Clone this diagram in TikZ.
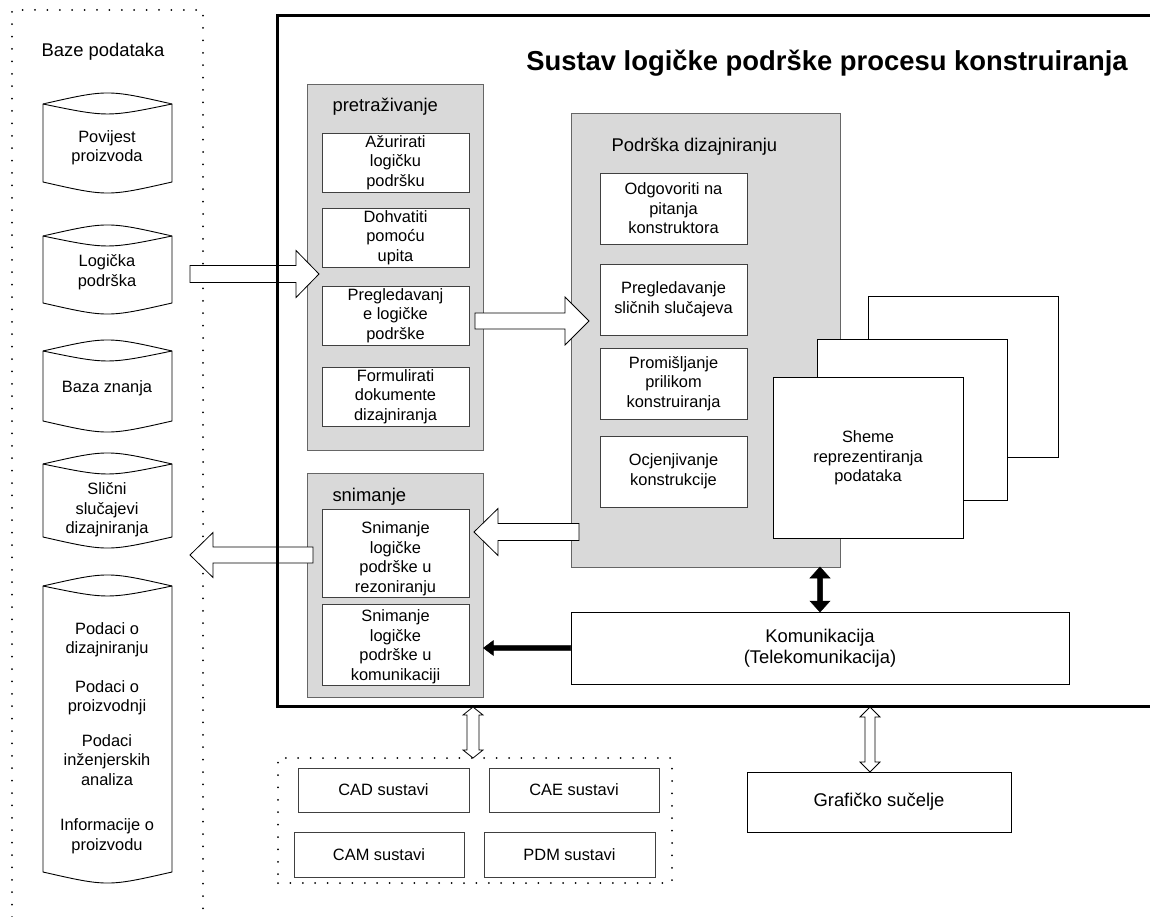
\documentclass[tikz,border=0pt]{standalone}
\usepackage{fontspec}
\setmainfont{Liberation Sans}
\usetikzlibrary{calc}
\newcommand\fsA{\fontsize{16.4}{19.5}\selectfont}
\newcommand\fsB{\fontsize{18.4}{21}\selectfont}
\newcommand\fsT{\fontsize{27.4}{31}\selectfont\bfseries}
% box from corners: style, name, x1, y1, x2, y2, text
\newcommand\bx[7]{\node[#1, minimum width={#5-#3}, minimum height={#6-#4}] (#2) at ({(#3+#5)/2},{(#4+#6)/2}) {#7};}
% cylinder: x1, x2, top, bottom
\newcommand\cyl[4]{%
  \draw[cylst] (#1,#3+11) .. controls ({(#1+#2)/2},#3-3.7) .. (#2,#3+11) -- (#2,#4-11) .. controls ({(#1+#2)/2},#4+3.7) .. (#1,#4-11) -- cycle;
  \draw[cylst] (#1,#3+11) .. controls ({(#1+#2)/2},#3+24.3) .. (#2,#3+11);}
\tikzset{
  cylst/.style={draw=black, fill=white, line width=0.9pt},
  grp/.style={draw=black!60, fill=black!15, line width=0.9pt, inner sep=0pt},
  ibox/.style={draw=black!75, fill=white, line width=0.8pt, align=center, inner sep=0pt, font=\fsA},
  wbox/.style={draw=black, fill=white, line width=0.8pt, align=center, inner sep=0pt},
  dotline/.style={draw=black, dash pattern=on 0pt off 12.4pt, line cap=round, line width=2pt},
  hollow/.style={draw=black, fill=white, line width=0.8pt, line join=miter},
  solid arrow/.style={draw=black, fill=black, line width=0.5pt, line join=miter},
  blk/.style n args={3}{to path={let \p1=(\tikztostart), \p2=(\tikztotarget),
      \n1={atan2(\y2-\y1,\x2-\x1)}, \n2={veclen(\x2-\x1,\y2-\y1)} in
      [shift={(\p1)}, rotate=\n1] (0,#1) -- ({\n2-#3},#1) -- ({\n2-#3},#2) -- (\n2,0)
      -- ({\n2-#3},-#2) -- ({\n2-#3},-#1) -- (0,-#1) -- cycle}},
  blkd/.style n args={3}{to path={let \p1=(\tikztostart), \p2=(\tikztotarget),
      \n1={atan2(\y2-\y1,\x2-\x1)}, \n2={veclen(\x2-\x1,\y2-\y1)} in
      [shift={(\p1)}, rotate=\n1] (0,0) -- (#3,#2) -- (#3,#1) -- ({\n2-#3},#1) -- ({\n2-#3},#2)
      -- (\n2,0) -- ({\n2-#3},-#2) -- ({\n2-#3},-#1) -- (#3,-#1) -- (#3,-#2) -- cycle}},
}
\begin{document}
\begin{tikzpicture}[x=1pt, y=-1pt]
\useasboundingbox (0,0) rectangle (1150,917);

% ---------- databases ----------
\draw[dotline] (12,917) -- (12,10) -- (203,10) -- (203,917);
\node[font=\fsB] (baze) at (103,52) {Baze podataka};
\cyl{43}{172}{93}{193}
\cyl{43}{172}{225}{314}
\cyl{43}{172}{340}{432}
\cyl{43}{172}{453}{548}
\cyl{43}{172}{575}{883}
\node[font=\fsA, align=center] (povijest) at (107,148) {Povijest\\proizvoda};
\node[font=\fsA, align=center] (logicka) at (107,272) {Logička\\podrška};
\node[font=\fsA, align=center] (baza) at (107,388) {Baza znanja};
\node[font=\fsA, align=center] (slicni) at (107,510) {Slični\\slučajevi\\dizajniranja};
\node[font=\fsA, align=center] (podaci) at (107,738) {Podaci o\\dizajniranju\\[19pt]Podaci o\\proizvodnji\\[15pt]Podaci\\inženjerskih\\analiza\\[26pt]Informacije o\\proizvodu};

% ---------- pretrazivanje ----------
\bx{grp}{pretraz}{307}{84}{483}{450}{}
\node[font=\fsB, anchor=west] (pretrazl) at (329,107) {pretraživanje};
\bx{ibox}{azur}{322}{133}{469}{192}{Ažurirati\\logičku\\podršku}
\bx{ibox}{dohv}{322}{208}{469}{267}{Dohvatiti\\pomoću\\upita}
\bx{ibox}{pregl}{322}{286}{469}{345}{Pregledavanj\\e logičke\\podrške}
\bx{ibox}{form}{322}{367}{469}{426}{Formulirati\\dokumente\\dizajniranja}

% ---------- snimanje ----------
\bx{grp}{snim}{307}{473}{483}{697}{}
\node[font=\fsB, anchor=west] (sniml) at (329,497) {snimanje};
\bx{ibox}{snrez}{322}{509}{469}{597}{}
\node[font=\fsA, align=center] (snrezl) at (395.5,559) {Snimanje\\logičke\\podrške u\\rezoniranju};
\bx{ibox}{snkom}{322}{604}{469}{685}{}
\node[font=\fsA, align=center] (snkoml) at (395.5,647) {Snimanje\\logičke\\podrške u\\komunikaciji};

% ---------- podrska dizajniranju ----------
\bx{grp}{podrska}{571}{113}{840}{567}{}
\node[font=\fsB, anchor=west] (podrskal) at (608,147) {Podrška dizajniranju};
\bx{ibox}{odg}{600}{173}{747}{244}{Odgovoriti na\\pitanja\\konstruktora}
\bx{ibox}{pregsl}{600}{264}{747}{335}{Pregledavanje\\sličnih slučajeva}
\bx{ibox}{prom}{600}{348}{747}{419}{Promišljanje\\prilikom\\konstruiranja}
\bx{ibox}{ocj}{600}{436}{747}{507}{Ocjenjivanje\\konstrukcije}

% ---------- sheme ----------
\bx{wbox}{sh3}{868}{296}{1058}{457}{}
\bx{wbox}{sh2}{817}{339}{1007}{500}{}
\bx{wbox}{sh1}{773}{377}{963}{538}{}
\node[font=\fsA, align=center] (shemel) at (868,458) {Sheme\\reprezentiranja\\podataka};

% ---------- komunikacija ----------
\bx{wbox}{kom}{571}{612}{1069}{684}{}
\node[font=\fsB, align=center] (koml) at (820,648) {Komunikacija\\(Telekomunikacija)};

% ---------- hollow block arrows ----------
\coordinate (a1s) at (190,274);
\coordinate (a1t) at (319,274);
\draw[hollow] (a1s) to[blk={8.5}{23.5}{23}] (a1t);
\coordinate (a2s) at (475,321);
\coordinate (a2t) at (589,321);
\draw[hollow] (a2s) to[blk={8}{24}{24}] (a2t);
\coordinate (a3s) at (579,532);
\coordinate (a3t) at (474,532);
\draw[hollow] (a3s) to[blk={8.5}{23.5}{24}] (a3t);
\coordinate (a4s) at (313,555);
\coordinate (a4t) at (190,555);
\draw[hollow] (a4s) to[blk={8}{22.5}{23}] (a4t);

% ---------- main system box ----------
\bx{draw=black, line width=3pt, inner sep=0pt}{sustav}{277}{16}{1170}{706}{}
\node[font=\fsT] (title) at (827,63) {Sustav logičke podrške procesu konstruiranja};

% ---------- solid arrows ----------
\coordinate (b1s) at (820,567);
\coordinate (b1t) at (820,612);
\draw[solid arrow] (b1s) to[blkd={2.5}{10}{11}] (b1t);
\draw[solid arrow] (kom.west) to[blk={2.3}{7.5}{10}] (snim.east |- kom.west);

% ---------- external systems ----------
\bx{dotline}{sysgrp}{278}{758}{672}{883}{}
\bx{ibox}{cad}{298}{768}{469}{812}{CAD sustavi}
\bx{ibox}{cae}{489}{768}{659}{812}{CAE sustavi}
\bx{ibox}{cam}{294}{832}{464}{877}{CAM sustavi}
\bx{ibox}{pdm}{484}{832}{655}{877}{PDM sustavi}
\bx{wbox}{graf}{747}{772}{1011}{832}{}
\node[font=\fsB] (grafl) at (879,802) {Grafičko sučelje};

\coordinate (c1s) at (473,707);
\coordinate (c1t) at (473,758);
\draw[hollow] (c1s) to[blkd={6}{10}{8}] (c1t);
\coordinate (c2s) at (870,707);
\coordinate (c2t) at (870,772);
\draw[hollow] (c2s) to[blkd={5}{10}{10}] (c2t);
\end{tikzpicture}
\end{document}
